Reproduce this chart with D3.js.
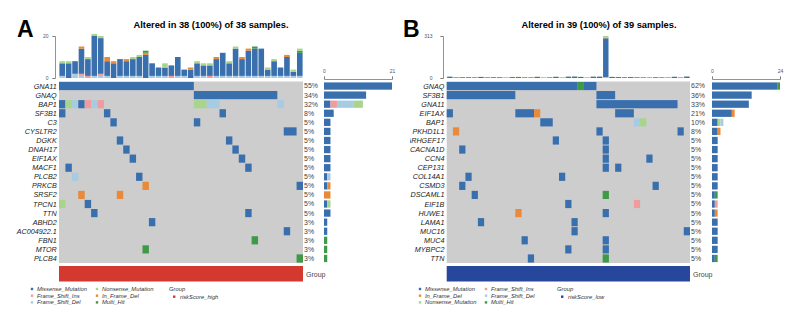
<!DOCTYPE html>
<html>
<head>
<meta charset="utf-8">
<script src="https://cdn.jsdelivr.net/npm/d3@7"></script>
<style>
body { margin: 0; background: #fff; }
svg { display: block; font-family: "Liberation Sans", Arial, sans-serif; }
</style>
</head>
<body>
<svg id="chart" width="800" height="322"></svg>
<script>
// variant classes: code, label, colour
var classCodes = ["M", "N", "I", "D", "F", "H"];
var classNames = ["Missense_Mutation", "Nonsense_Mutation", "Frame_Shift_Ins", "Frame_Shift_Del", "In_Frame_Del", "Multi_Hit"];
var classColors = ["#3a6fae", "#a9d48b", "#f09c9c", "#a8cbe4", "#e98a3a", "#3f9a48"];

/* ---------- panel A : riskScore_high ---------- */
var genesA = ["GNA11", "GNAQ", "BAP1", "SF3B1", "C3", "CYSLTR2", "DGKK", "DNAH17", "EIF1AX", "MACF1",
  "PLCB2", "PRKCB", "SRSF2", "TPCN1", "TTN", "ABHD2", "AC004922.1", "FBN1", "MTOR", "PLCB4"];
// per gene: sample index (or range) + class code
var mutsA = ["0-20M", "21-33M", "0M 1N 2D 3M 4I 5D 6I 21N 22N 23D 24D 34D", "0M 7M 25M", "8M 21M", "35M 36M",
  "9M 26M", "10M 27M", "11M 28M", "1M 29M", "2D 12M", "13F 37M", "3F 9F", "0N 4M", "5M 29M",
  "14M", "35M", "30H", "13H", "37H"];
// mutation load per sample, split by class
var tmbMissA = [6, 7, 6, 12, 8, 19, 17, 7, 7, 8, 7, 8, 9, 11, 6, 4, 4, 5, 9, 3, 4, 6, 5, 5, 8, 11, 6, 13, 8, 12, 13, 13, 3, 7, 4, 9, 2, 11];
var tmbNonA  = [1, 1, 0, 0, 1, 1, 1, 0, 0, 0, 0, 1, 1, 0, 0, 0, 2, 0, 0, 0, 0, 1, 1, 1, 0, 0, 1, 1, 0, 0, 0, 0, 1, 1, 0, 0, 1, 1];
var tmbInsA  = [0, 0, 0, 1, 1, 0, 1, 0, 0, 0, 0, 0, 0, 0, 0, 0, 0, 1, 0, 0, 0, 0, 0, 1, 0, 0, 0, 0, 0, 0, 0, 0, 0, 0, 0, 0, 0, 0];
var tmbDelA  = [1, 0, 2, 1, 0, 1, 1, 1, 0, 1, 1, 1, 1, 0, 1, 1, 1, 0, 1, 1, 0, 1, 1, 0, 1, 1, 1, 1, 1, 1, 1, 1, 1, 1, 1, 1, 1, 1];
var tmbIfdA  = [0, 0, 0, 1, 0, 0, 0, 2, 1, 0, 1, 0, 0, 1, 0, 0, 0, 0, 0, 0, 1, 0, 0, 0, 1, 0, 0, 0, 1, 1, 0, 0, 0, 0, 0, 1, 0, 0];
var tmbMultiA = [0, 0, 0, 0, 0, 0, 0, 0, 0, 0, 0, 0, 0, 1, 0, 0, 0, 0, 0, 0, 0, 0, 0, 0, 0, 0, 0, 0, 0, 0, 1, 0, 0, 0, 0, 0, 0, 1];

/* ---------- panel B : riskScore_low ---------- */
var genesB = ["GNAQ", "SF3B1", "GNA11", "EIF1AX", "BAP1", "PKHD1L1", "ARHGEF17", "CACNA1D", "CCN4", "CEP131",
  "COL14A1", "CSMD3", "DSCAML1", "EIF1B", "HUWE1", "LAMA1", "MUC16", "MUC4", "MYBPC2", "TTN"];
var mutsB = ["0-20M 21H 22-23M", "0-10M 24-26M", "24-36M", "0M 11-13M 14F 27-29M", "15M 16M 30D 31N",
  "1F 24M 37M", "17M 25M", "2M 25M", "32M 25M", "27M 25M", "3M 18M", "2M 33M", "4M 25H", "19M 30I",
  "11F 25M", "5M 20M", "20M 38M", "12M 25M", "19M 25M", "13M 25H"];
var tmbMissB = [10, 5, 6, 6, 5, 8, 5, 6, 6, 3, 7, 7, 5, 5, 8, 3, 5, 9, 3, 10, 11, 8, 3, 10, 10, 290, 8, 7, 6, 7, 5, 5, 4, 6, 5, 4, 9, 4, 11];
var tmbNonB  = [1, 1, 1, 1, 1, 1, 1, 1, 1, 1, 1, 1, 1, 1, 1, 1, 1, 1, 1, 1, 1, 1, 1, 1, 1, 14, 1, 1, 1, 1, 1, 1, 1, 1, 1, 1, 1, 1, 1];
var tmbInsB  = [0, 0, 0, 0, 0, 0, 0, 0, 0, 0, 0, 0, 0, 0, 0, 0, 0, 0, 0, 0, 0, 0, 0, 0, 0, 3, 0, 0, 0, 0, 1, 0, 0, 0, 0, 0, 0, 0, 0];
var tmbDelB  = [0, 0, 0, 0, 0, 0, 0, 0, 0, 0, 0, 0, 0, 0, 0, 0, 0, 0, 0, 0, 0, 0, 0, 0, 0, 3, 0, 0, 0, 0, 1, 0, 0, 0, 0, 0, 0, 0, 0];
var tmbIfdB  = [0, 1, 0, 0, 0, 0, 0, 0, 0, 0, 0, 1, 0, 0, 1, 0, 0, 0, 0, 0, 0, 0, 0, 0, 0, 2, 0, 0, 0, 0, 0, 0, 0, 0, 0, 0, 0, 0, 0];
var tmbMultiB = [0, 0, 0, 0, 0, 0, 0, 0, 0, 0, 0, 0, 0, 0, 0, 0, 0, 0, 0, 0, 0, 0, 0, 0, 0, 1, 0, 0, 0, 0, 0, 0, 0, 0, 0, 0, 0, 0, 0];

var svg = d3.select("#chart");

function parseRow(s) {
  var out = [];
  s.split(" ").filter(Boolean).forEach(function(t) {
    var m = t.match(/^(\d+)(?:-(\d+))?([A-Z])$/);
    var a = +m[1], b = m[2] ? +m[2] : a;
    for (var i = a; i <= b; i++) out.push({ s: i, c: m[3] });
  });
  return out;
}

// join neighbouring cells of the same class so runs draw without seams
function toRuns(cells) {
  var sorted = cells.slice().sort(function(a, b) { return a.s - b.s; });
  var runs = [];
  sorted.forEach(function(d) {
    var last = runs[runs.length - 1];
    if (last && last.c === d.c && last.e === d.s - 1) last.e = d.s;
    else runs.push({ s: d.s, e: d.s, c: d.c });
  });
  return runs;
}

function drawPanel(p) {
  var g = svg.append("g");
  var rows = p.genes.map(function(gene, i) {
    var cells = parseRow(p.muts[i]);
    var counts = {};
    classCodes.forEach(function(c) { counts[c] = 0; });
    cells.forEach(function(d) { counts[d.c]++; });
    return { gene: gene, cells: cells, counts: counts, n: cells.length };
  });

  var x = d3.scaleBand().domain(d3.range(p.n)).range([p.x0, p.x1]);
  var y = d3.scaleBand().domain(p.genes).range([81.5, 263]);
  var yTop = d3.scaleLinear().domain([0, p.tmbMax]).range([78, 36]);
  var xRight = d3.scaleLinear().domain([0, p.rbMax]).range([p.rb0, p.rb1]);

  // panel letter + title
  g.append("text").attr("x", p.letterX).attr("y", 37)
    .style("font-size", "23px").style("font-weight", "bold").text(p.letter);
  g.append("text").attr("x", p.titleX).attr("y", 28).attr("text-anchor", "middle")
    .style("font-size", "9.3px").style("font-weight", "bold").text(p.title);

  // top bar: mutation load per sample
  var tmbRows = d3.range(p.n).map(function(i) {
    var o = { s: i };
    classCodes.forEach(function(c) { o[c] = p.tmb[c][i]; });
    return o;
  });
  var stack = d3.stack().keys(p.topOrder)(tmbRows);
  g.append("g").selectAll("g").data(stack).join("g")
    .attr("fill", function(d) { return classColors[classCodes.indexOf(d.key)]; })
    .selectAll("rect").data(function(d) { return d; }).join("rect")
    .attr("x", function(d) { return x(d.data.s) + 0.4; })
    .attr("width", x.bandwidth() - 0.8)
    .attr("y", function(d) { return yTop(d[1]); })
    .attr("height", function(d) { return Math.max(0, yTop(d[0]) - yTop(d[1])); });

  var ax = g.append("g").attr("transform", "translate(" + p.axisX + ",0)")
    .call(d3.axisLeft(yTop).tickValues([0, p.tmbMax]).tickSize(2.5).tickPadding(p.tickPad));
  ax.selectAll("text").style("font-size", "5px").attr("fill", "#555");
  ax.selectAll("line,path").attr("stroke", "#777").attr("stroke-width", 0.8);

  // oncoplot matrix
  g.append("rect").attr("x", p.x0).attr("y", y.range()[0])
    .attr("width", p.x1 - p.x0).attr("height", y.range()[1] - y.range()[0]).attr("fill", "#cdcdcd");
  rows.forEach(function(r) {
    g.append("g").selectAll("rect").data(toRuns(r.cells)).join("rect")
      .attr("x", function(d) { return x(d.s); })
      .attr("y", y(r.gene) + 0.45)
      .attr("width", function(d) { return x(d.e) + x.bandwidth() - x(d.s); })
      .attr("height", y.bandwidth() - 0.9)
      .attr("fill", function(d) { return classColors[classCodes.indexOf(d.c)]; });
  });

  // gene names
  var labels = g.append("g");
  if (p.clipX != null) {
    svg.append("clipPath").attr("id", "clip" + p.letter).append("rect")
      .attr("x", p.clipX).attr("y", 0).attr("width", 200).attr("height", 322);
    labels.attr("clip-path", "url(#clip" + p.letter + ")");
  }
  labels.selectAll("text").data(rows).join("text")
    .attr("x", p.x0 - 2.3).attr("y", function(d) { return y(d.gene) + y.bandwidth() / 2; })
    .attr("dy", "0.35em").attr("text-anchor", "end")
    .style("font-size", "7.2px").style("font-style", "italic").attr("fill", "#222")
    .text(function(d) { return d.gene; });

  // percentages
  g.append("g").selectAll("text").data(rows).join("text")
    .attr("x", p.x1 + 1).attr("y", function(d) { return y(d.gene) + y.bandwidth() / 2; })
    .attr("dy", "0.35em").style("font-size", "7px").attr("fill", "#444")
    .text(function(d) { return Math.round(d.n / p.n * 100) + "%"; });

  // right bar: altered samples per gene
  rows.forEach(function(r) {
    var acc = 0;
    var segs = p.stackOrder.map(function(c) {
      var s = { c: c, a: acc, b: acc + r.counts[c] };
      acc += r.counts[c];
      return s;
    }).filter(function(s) { return s.b > s.a; });
    g.append("g").selectAll("rect").data(segs).join("rect")
      .attr("x", function(d) { return xRight(d.a); })
      .attr("width", function(d) { return xRight(d.b) - xRight(d.a); })
      .attr("y", y(r.gene) + 0.9)
      .attr("height", y.bandwidth() - 1.8)
      .attr("fill", function(d) { return classColors[classCodes.indexOf(d.c)]; });
  });
  var rx = g.append("g").attr("transform", "translate(0,79)")
    .call(d3.axisTop(xRight).tickValues([0, p.rbMax]).tickSize(2.5).tickPadding(4));
  rx.selectAll("text").style("font-size", "5px").attr("fill", "#555");
  rx.selectAll("line,path").attr("stroke", "#777").attr("stroke-width", 0.8);

  // group annotation bar
  g.append("rect").attr("x", p.x0).attr("y", 266).attr("width", p.x1 - p.x0).attr("height", 15.5)
    .attr("fill", p.groupColor);
  g.append("text").attr("x", p.x1 + 3).attr("y", 276.5).style("font-size", "7px").attr("fill", "#444")
    .text("Group");

  // legend
  var leg = g.append("g").style("font-size", "5.8px").style("font-style", "italic");
  p.stackOrder.forEach(function(c, i) {
    var lx = p.legX + Math.floor(i / 3) * p.legColW, ly = 289 + (i % 3) * 6.7;
    leg.append("rect").attr("x", lx - 1.2).attr("y", ly - 1.2).attr("width", 2.4).attr("height", 2.4)
      .attr("fill", classColors[classCodes.indexOf(c)]);
    leg.append("text").attr("x", lx + 5).attr("y", ly).attr("dy", "0.35em").attr("fill", "#333")
      .text(classNames[classCodes.indexOf(c)]);
  });
  leg.append("text").attr("x", p.legGroupX).attr("y", 289).attr("dy", "0.35em").attr("fill", "#333").text("Group");
  leg.append("rect").attr("x", p.legGroupX + 4).attr("y", 295.5).attr("width", 2.4).attr("height", 2.4)
    .attr("fill", p.groupColor);
  leg.append("text").attr("x", p.legGroupX + 11).attr("y", 296.7).attr("dy", "0.35em").attr("fill", "#333")
    .text(p.groupLabel);
}

drawPanel({
  letter: "A", letterX: 17, title: "Altered in 38 (100%) of 38 samples.", titleX: 211,
  n: 38, genes: genesA, muts: mutsA,
  tmb: { M: tmbMissA, N: tmbNonA, I: tmbInsA, D: tmbDelA, F: tmbIfdA, H: tmbMultiA },
  tmbMax: 20, rbMax: 21, stackOrder: ["M", "I", "D", "N", "F", "H"], topOrder: ["D", "I", "M", "F", "H", "N"],
  x0: 59, x1: 303, axisX: 55, tickPad: 4, rb0: 324, rb1: 392,
  groupColor: "#d3392f", groupLabel: "riskScore_high",
  legX: 32, legColW: 65, legGroupX: 169
});

drawPanel({
  letter: "B", letterX: 403, title: "Altered in 39 (100%) of 39 samples.", titleX: 599,
  n: 39, genes: genesB, muts: mutsB,
  tmb: { M: tmbMissB, N: tmbNonB, I: tmbInsB, D: tmbDelB, F: tmbIfdB, H: tmbMultiB },
  tmbMax: 313, rbMax: 24, stackOrder: ["M", "F", "N", "I", "D", "H"], topOrder: ["D", "I", "M", "F", "H", "N"],
  x0: 446.7, x1: 690, axisX: 443, tickPad: 8, rb0: 712, rb1: 780, clipX: 410,
  groupColor: "#27479c", groupLabel: "riskScore_low",
  legX: 420, legColW: 66, legGroupX: 557
});
</script>
</body>
</html>
